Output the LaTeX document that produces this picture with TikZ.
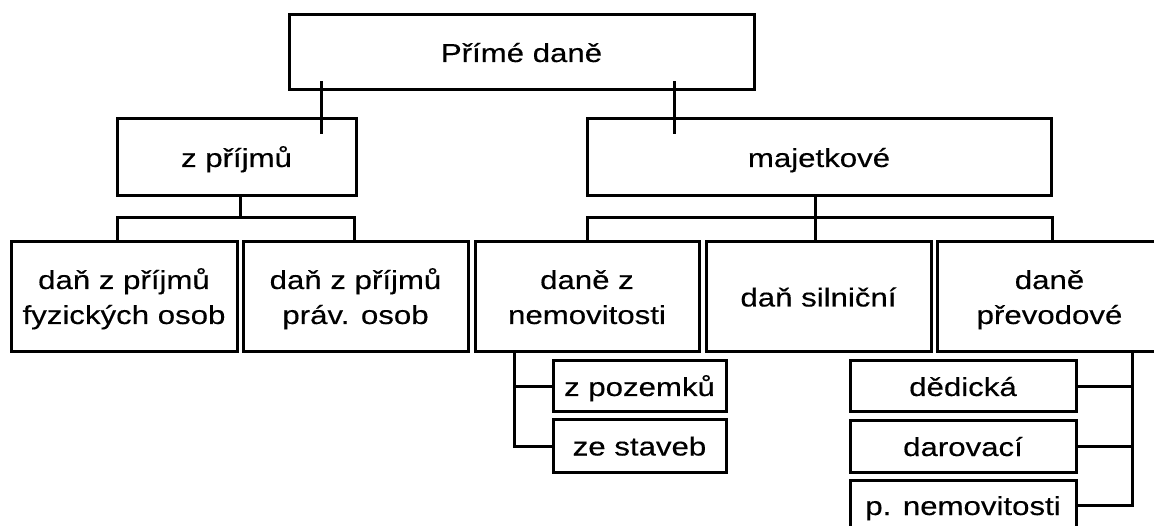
\documentclass[tikz,border=0pt]{standalone}
\usepackage{fontspec}
\setmainfont{Liberation Sans}[FakeBold=0.3]
\usepackage{graphicx}
\newcommand{\lbl}[1]{\scalebox{1.2}[1]{\begin{tabular}{@{}c@{}}\rule{0pt}{29.5pt}#1\end{tabular}}}
\tikzset{
  box/.style={draw, line width=3pt, inner sep=0pt, font=\fontsize{26}{35}\selectfont},
  conn/.style={line width=3pt}
}
\begin{document}
\begin{tikzpicture}[x=1pt,y=-1pt]
\useasboundingbox (0,0) rectangle (1154,526);
\clip (0,0) rectangle (1154,526);
\node[box, minimum width=465pt, minimum height=75pt] (top) at (521.5,52.5) {\lbl{Přímé daně}};
\node[box, minimum width=239pt, minimum height=77pt] (zp) at (236.5,157.5) {\lbl{z příjmů}};
\node[box, minimum width=464pt, minimum height=77pt] (maj) at (819,157.5) {\lbl{majetkové}};
\node[box, minimum width=226pt, minimum height=110pt] (b1) at (124,297) {\lbl{daň z příjmů\\fyzických osob}};
\node[box, minimum width=225pt, minimum height=110pt] (b2) at (355.5,297) {\lbl{daň z příjmů\\práv. osob}};
\node[box, minimum width=224pt, minimum height=110pt] (b3) at (587,297) {\lbl{daně z\\nemovitosti}};
\node[box, minimum width=225pt, minimum height=110pt] (b4) at (818.5,297) {\lbl{daň silniční}};
\node[box, minimum width=225pt, minimum height=110pt] (b5) at (1049.5,297) {\lbl{daně\\převodové}};
\node[box, minimum width=173pt, minimum height=51pt] (s1) at (639.5,386.5) {\lbl{z pozemků}};
\node[box, minimum width=173pt, minimum height=52pt] (s2) at (639.5,446) {\lbl{ze staveb}};
\node[box, minimum width=226pt, minimum height=51pt] (t1) at (963,386.5) {\lbl{dědická}};
\node[box, minimum width=226pt, minimum height=51pt] (t2) at (963,446.5) {\lbl{darovací}};
\node[box, minimum width=226pt, minimum height=51pt] (t3) at (963,505.5) {\lbl{p. nemovitosti}};
\coordinate (bar) at (0,218);
% top level
\draw[conn] ([xshift=34pt,yshift=10pt]top.south west) -- ++(0,53);
\draw[conn] ([xshift=-81pt,yshift=10pt]top.south east) -- ++(0,53);
% z prijmu
\draw[conn] ([xshift=3.5pt]zp.south) -- ([xshift=3.5pt]zp.south |- bar);
\draw[conn] ([xshift=-7pt]b1.north) |- ([xshift=-1.5pt]b2.north |- bar) -- ([xshift=-1.5pt]b2.north);
% majetkove
\draw[conn] ([xshift=-4pt]maj.south) -- ([xshift=-4pt]maj.south |- b4.north);
\draw[conn] (b3.north) |- ([xshift=2.5pt]b5.north |- bar) -- ([xshift=2.5pt]b5.north);
% nemovitosti
\draw[conn] ([xshift=41pt]b3.south west) |- (s2.west);
\draw[conn] ([xshift=41pt]b3.south west |- s1.west) -- (s1.west);
% prevodove
\draw[conn] ([xshift=-31.5pt]b5.south east) |- (t3.east);
\draw[conn] ([xshift=-31.5pt]b5.south east |- t1.east) -- (t1.east);
\draw[conn] ([xshift=-31.5pt]b5.south east |- t2.east) -- (t2.east);
\end{tikzpicture}
\end{document}
